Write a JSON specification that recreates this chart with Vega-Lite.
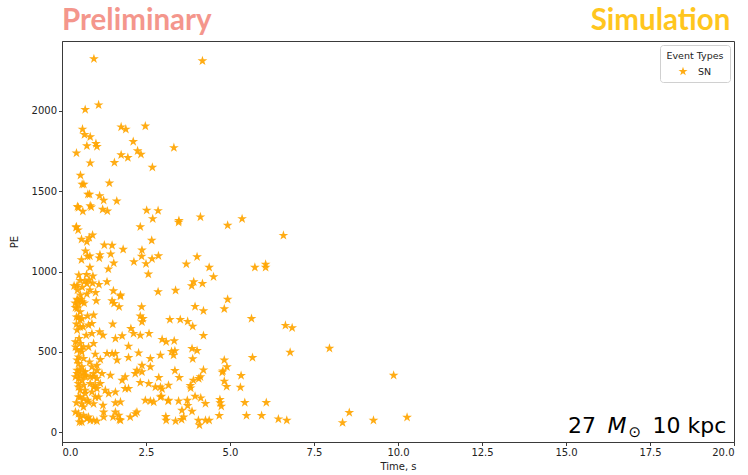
{
  "$schema": "https://vega.github.io/schema/vega-lite/v6.json",
  "autosize": "none",
  "width": 672,
  "height": 401,
  "padding": {"left": 62, "top": 41, "right": 14, "bottom": 33},
  "background": "white",
  "config": {
    "view": {"stroke": "#3a3a3a", "strokeWidth": 1},
    "font": "DejaVu Sans",
    "axis": {
      "labelFont": "DejaVu Sans",
      "titleFont": "DejaVu Sans",
      "labelFontSize": 10,
      "titleFontSize": 10,
      "titleFontWeight": "normal",
      "labelColor": "#222",
      "titleColor": "#222",
      "domainColor": "#3a3a3a",
      "tickColor": "#3a3a3a",
      "tickSize": 3.5,
      "labelPadding": 2,
      "grid": false
    }
  },
  "layer": [
    {
      "data": {
        "values": [
          {"t":0.95,"pe":2324},{"t":4.18,"pe":2311},
          {"t":0.69,"pe":2008},{"t":1.09,"pe":2037},{"t":0.61,"pe":1886},{"t":0.67,"pe":1852},{"t":0.84,"pe":1838},{"t":0.74,"pe":1782},{"t":1.01,"pe":1796},{"t":1.04,"pe":1778},{"t":0.43,"pe":1738},{"t":0.84,"pe":1676},{"t":0.55,"pe":1599},{"t":0.60,"pe":1543},{"t":0.65,"pe":1543},{"t":0.77,"pe":1481},{"t":0.82,"pe":1481},{"t":1.12,"pe":1472},{"t":1.24,"pe":1444},{"t":0.46,"pe":1404},{"t":0.49,"pe":1398},{"t":0.62,"pe":1375},{"t":0.84,"pe":1410},{"t":0.87,"pe":1402},{"t":1.21,"pe":1387},{"t":1.35,"pe":1377},{"t":1.41,"pe":1551},{"t":1.63,"pe":1439},{"t":1.56,"pe":1678},{"t":1.76,"pe":1900},{"t":1.90,"pe":1886},{"t":1.76,"pe":1726},{"t":1.96,"pe":1709},{"t":2.12,"pe":1809},{"t":2.25,"pe":1751},{"t":2.35,"pe":1730},{"t":2.48,"pe":1905},{"t":2.69,"pe":1649},{"t":3.33,"pe":1771},{"t":2.52,"pe":1381},{"t":2.70,"pe":1329},{"t":2.86,"pe":1379},{"t":3.48,"pe":1317},{"t":3.47,"pe":1307},{"t":4.12,"pe":1340},{"t":4.93,"pe":1288},{"t":5.36,"pe":1329},
          {"t":2.33,"pe":1279},{"t":0.43,"pe":1279},{"t":6.59,"pe":1225},{"t":4.02,"pe":1092},{"t":3.70,"pe":1047},{"t":4.38,"pe":1026},{"t":4.51,"pe":968},{"t":5.74,"pe":1026},{"t":6.06,"pe":1045},{"t":6.06,"pe":1026},
          {"t":0.42,"pe":1275},{"t":0.48,"pe":1259},{"t":0.58,"pe":1201},{"t":0.74,"pe":1186},{"t":0.81,"pe":1211},{"t":0.91,"pe":1227},{"t":2.67,"pe":1194},{"t":1.26,"pe":1165},{"t":1.49,"pe":1163},{"t":1.82,"pe":1138},{"t":0.70,"pe":1128},{"t":0.76,"pe":1095},{"t":0.83,"pe":1097},{"t":0.58,"pe":1074},{"t":1.13,"pe":1105},{"t":1.11,"pe":1084},{"t":1.45,"pe":1109},{"t":2.38,"pe":1134},{"t":2.37,"pe":1095},{"t":2.68,"pe":1080},{"t":2.87,"pe":1098},{"t":2.14,"pe":1061},{"t":2.50,"pe":1049},{"t":1.54,"pe":1053},{"t":0.83,"pe":1026},{"t":1.38,"pe":1016},
          {"t":3.92,"pe":936},{"t":3.86,"pe":912},{"t":4.18,"pe":926},{"t":4.93,"pe":827},{"t":2.57,"pe":984},{"t":0.50,"pe":978},{"t":0.73,"pe":982},{"t":0.92,"pe":972},{"t":0.54,"pe":945},{"t":0.68,"pe":941},{"t":0.81,"pe":947},{"t":0.91,"pe":928},{"t":0.45,"pe":914},{"t":0.60,"pe":903},{"t":0.74,"pe":924},{"t":0.83,"pe":885},{"t":0.46,"pe":885},{"t":0.55,"pe":854},{"t":0.74,"pe":860},{"t":1.10,"pe":920},{"t":1.34,"pe":936},{"t":1.00,"pe":870},{"t":1.53,"pe":880},{"t":1.74,"pe":854},{"t":2.86,"pe":874},{"t":3.38,"pe":883},{"t":0.36,"pe":911},{"t":0.45,"pe":827},{"t":0.57,"pe":827},{"t":0.66,"pe":804},{"t":0.49,"pe":797},{"t":0.39,"pe":804},{"t":1.49,"pe":818},{"t":1.02,"pe":818},{"t":1.55,"pe":802},{"t":1.74,"pe":847},
          {"t":4.83,"pe":768},{"t":3.96,"pe":783},{"t":4.21,"pe":756},{"t":5.64,"pe":708},{"t":3.52,"pe":702},{"t":3.74,"pe":690},{"t":3.89,"pe":660},{"t":6.65,"pe":665},{"t":6.85,"pe":650},{"t":4.21,"pe":602},
          {"t":1.70,"pe":781},{"t":2.37,"pe":781},{"t":2.33,"pe":723},{"t":2.41,"pe":708},{"t":2.38,"pe":687},{"t":0.45,"pe":771},{"t":0.54,"pe":750},{"t":0.49,"pe":718},{"t":0.59,"pe":708},{"t":0.43,"pe":673},{"t":0.54,"pe":656},{"t":0.94,"pe":729},{"t":0.89,"pe":677},{"t":0.79,"pe":667},{"t":1.51,"pe":673},{"t":2.05,"pe":646},{"t":2.13,"pe":615},{"t":2.33,"pe":604},{"t":2.59,"pe":615},{"t":1.12,"pe":625},{"t":1.22,"pe":604},{"t":0.89,"pe":615},{"t":3.21,"pe":702},
          {"t":7.96,"pe":523},{"t":4.02,"pe":509},{"t":6.79,"pe":498},{"t":5.67,"pe":465},{"t":3.89,"pe":457},{"t":4.83,"pe":450},{"t":4.91,"pe":407},{"t":4.79,"pe":382},{"t":4.77,"pe":374},{"t":4.21,"pe":388},{"t":2.98,"pe":578},{"t":3.10,"pe":563},{"t":3.34,"pe":569},{"t":3.26,"pe":503},{"t":3.36,"pe":507},{"t":3.32,"pe":480},{"t":2.93,"pe":480},{"t":1.59,"pe":584},{"t":1.79,"pe":600},
          {"t":0.94,"pe":553},{"t":0.40,"pe":563},{"t":0.54,"pe":553},{"t":0.64,"pe":531},{"t":0.45,"pe":511},{"t":0.59,"pe":500},{"t":0.49,"pe":469},{"t":0.64,"pe":459},{"t":1.98,"pe":536},{"t":1.34,"pe":490},{"t":1.49,"pe":490},{"t":1.59,"pe":490},{"t":2.28,"pe":494},{"t":2.63,"pe":459},{"t":0.99,"pe":486},{"t":1.14,"pe":453},{"t":1.04,"pe":417},{"t":0.89,"pe":407},{"t":1.64,"pe":449},{"t":1.98,"pe":465},{"t":2.23,"pe":386},{"t":2.38,"pe":417},{"t":2.63,"pe":407},{"t":3.87,"pe":521},
          {"t":9.87,"pe":355},{"t":5.33,"pe":353},{"t":4.12,"pe":345},{"t":4.07,"pe":334},{"t":3.91,"pe":324},{"t":3.82,"pe":291},{"t":3.83,"pe":276},{"t":4.83,"pe":318},{"t":4.90,"pe":285},{"t":5.31,"pe":280},{"t":3.36,"pe":384},{"t":3.49,"pe":341},{"t":2.98,"pe":270},{"t":2.96,"pe":224},
          {"t":0.49,"pe":428},{"t":0.59,"pe":407},{"t":0.45,"pe":386},{"t":0.64,"pe":376},{"t":0.54,"pe":355},{"t":0.69,"pe":345},{"t":1.04,"pe":386},{"t":1.19,"pe":366},{"t":0.94,"pe":345},{"t":1.44,"pe":355},{"t":2.18,"pe":366},{"t":2.88,"pe":341},{"t":2.38,"pe":376},{"t":0.49,"pe":335},{"t":1.88,"pe":345},{"t":1.79,"pe":324},{"t":2.33,"pe":310},{"t":2.58,"pe":303},{"t":2.78,"pe":282},{"t":2.93,"pe":282},{"t":3.17,"pe":293},{"t":1.88,"pe":272},{"t":1.98,"pe":272},{"t":1.29,"pe":262},{"t":1.59,"pe":251},{"t":1.39,"pe":241},
          {"t":0.45,"pe":366},{"t":0.69,"pe":355},{"t":0.94,"pe":366},{"t":1.04,"pe":335},{"t":0.49,"pe":303},{"t":0.64,"pe":293},{"t":0.84,"pe":303},{"t":0.99,"pe":293},{"t":1.14,"pe":303},{"t":0.54,"pe":262},{"t":0.69,"pe":241},{"t":0.89,"pe":251},{"t":1.04,"pe":272},{"t":0.49,"pe":220},{"t":0.64,"pe":209},{"t":1.09,"pe":220},
          {"t":3.96,"pe":224},{"t":4.13,"pe":214},{"t":3.73,"pe":199},{"t":3.74,"pe":166},{"t":4.27,"pe":179},{"t":4.70,"pe":204},{"t":4.71,"pe":183},{"t":4.74,"pe":162},{"t":5.44,"pe":185},{"t":6.08,"pe":185},{"t":3.57,"pe":137},{"t":3.87,"pe":131},{"t":3.62,"pe":95},{"t":3.56,"pe":79},{"t":4.68,"pe":104},{"t":5.49,"pe":104},{"t":5.94,"pe":104},{"t":6.44,"pe":83},{"t":6.69,"pe":75},{"t":8.55,"pe":123},{"t":8.35,"pe":60},{"t":9.27,"pe":75},{"t":10.27,"pe":93},{"t":4.06,"pe":75},{"t":4.09,"pe":45},{"t":4.27,"pe":75},{"t":4.38,"pe":75},{"t":3.16,"pe":195},{"t":3.47,"pe":195},{"t":3.09,"pe":98},{"t":3.10,"pe":75},{"t":3.38,"pe":70},
          {"t":2.48,"pe":199},{"t":2.63,"pe":195},{"t":2.73,"pe":189},{"t":2.93,"pe":220},{"t":3.17,"pe":199},{"t":1.59,"pe":183},{"t":1.74,"pe":189},{"t":1.59,"pe":126},{"t":1.69,"pe":106},{"t":1.74,"pe":75},{"t":2.03,"pe":95},{"t":2.18,"pe":116},{"t":2.23,"pe":126},{"t":1.24,"pe":126},{"t":1.24,"pe":95},{"t":1.22,"pe":168},
          {"t":0.79,"pe":189},{"t":0.94,"pe":178},{"t":0.59,"pe":178},{"t":0.40,"pe":126},{"t":0.49,"pe":116},{"t":0.54,"pe":95},{"t":0.59,"pe":64},{"t":0.74,"pe":85},{"t":0.84,"pe":75},{"t":0.94,"pe":75},{"t":1.04,"pe":70},{"t":0.64,"pe":106},{"t":0.79,"pe":95},{"t":0.52,"pe":64},{"t":1.52,"pe":95},{"t":1.71,"pe":79},
          {"t":0.40,"pe":776},{"t":0.46,"pe":822},{"t":0.60,"pe":812},{"t":0.43,"pe":718},{"t":0.54,"pe":698},{"t":0.76,"pe":723},{"t":0.45,"pe":636},{"t":0.63,"pe":656},{"t":0.51,"pe":584},{"t":0.72,"pe":604},{"t":0.40,"pe":531},{"t":0.57,"pe":515},{"t":0.79,"pe":531},{"t":0.45,"pe":449},{"t":0.82,"pe":438},{"t":0.51,"pe":386},{"t":0.69,"pe":376},{"t":0.40,"pe":345},{"t":0.60,"pe":324},{"t":0.84,"pe":345},{"t":0.49,"pe":282},{"t":0.69,"pe":262},{"t":0.94,"pe":282},{"t":0.54,"pe":220},{"t":0.76,"pe":199},{"t":0.99,"pe":220},{"t":0.43,"pe":183},{"t":0.64,"pe":158}
        ]
      },
      "mark": {"type": "point", "filled": true, "size": 105, "opacity": 0.92, "strokeWidth": 0},
      "encoding": {
        "x": {
          "field": "t", "type": "quantitative",
          "scale": {"domain": [0, 20], "nice": false, "zero": false},
          "axis": {"title": "Time, s", "values": [0, 2.5, 5, 7.5, 10, 12.5, 15, 17.5, 20], "format": ".1f", "titlePadding": 4}
        },
        "y": {
          "field": "pe", "type": "quantitative",
          "scale": {"domain": [-60, 2435], "nice": false, "zero": false},
          "axis": {"title": "PE", "values": [0, 500, 1000, 1500, 2000], "format": "d", "titlePadding": 12}
        },
        "color": {
          "datum": "SN",
          "scale": {"range": ["#FFA500"]},
          "legend": {
            "title": "Event Types",
            "orient": "top-right",
            "offset": 4,
            "padding": 6,
            "strokeColor": "#d0d0d0",
            "fillColor": "white",
            "cornerRadius": 3,
            "titleFont": "DejaVu Sans",
            "titleFontSize": 9.5,
            "titleFontWeight": "normal",
            "titleColor": "#222",
            "titleAnchor": "middle",
            "titlePadding": 6,
            "labelFont": "DejaVu Sans",
            "labelFontSize": 9.5,
            "labelColor": "#222",
            "labelOffset": 10,
            "symbolType": "M0,-1L0.2245,-0.309L0.9511,-0.309L0.3633,0.118L0.5878,0.809L0,0.382L-0.5878,0.809L-0.3633,0.118L-0.9511,-0.309L-0.2245,-0.309Z",
            "symbolSize": 90,
            "symbolStrokeWidth": 0,
            "symbolOpacity": 0.92
          }
        },
        "shape": {"value": "M0,-1L0.2245,-0.309L0.9511,-0.309L0.3633,0.118L0.5878,0.809L0,0.382L-0.5878,0.809L-0.3633,0.118L-0.9511,-0.309L-0.2245,-0.309Z"}
      }
    },
    {
      "data": {"values": [{"label": "Preliminary"}]},
      "mark": {"type": "text", "align": "left", "baseline": "alphabetic", "font": "Lato", "fontWeight": "bold", "fontSize": 29.5, "color": "#F4968C"},
      "encoding": {"x": {"datum": 0, "type": "quantitative"}, "y": {"datum": 2503, "type": "quantitative"}, "text": {"field": "label"}}
    },
    {
      "data": {"values": [{"label": "Simulation"}]},
      "mark": {"type": "text", "align": "right", "baseline": "alphabetic", "font": "Lato", "fontWeight": "bold", "fontSize": 29.5, "color": "#FFC61E"},
      "encoding": {"x": {"datum": 19.89, "type": "quantitative"}, "y": {"datum": 2503, "type": "quantitative"}, "text": {"field": "label"}}
    },
    {
      "data": {"values": [{"label": "27"}]},
      "mark": {"type": "text", "align": "left", "baseline": "alphabetic", "font": "DejaVu Sans", "fontSize": 22, "color": "black"},
      "encoding": {"x": {"datum": 15.06, "type": "quantitative"}, "y": {"datum": -6, "type": "quantitative"}, "text": {"field": "label"}}
    },
    {
      "data": {"values": [{"label": "M"}]},
      "mark": {"type": "text", "align": "right", "baseline": "alphabetic", "font": "DejaVu Sans", "fontStyle": "oblique", "fontSize": 22, "color": "black"},
      "encoding": {"x": {"datum": 16.8, "type": "quantitative"}, "y": {"datum": -6, "type": "quantitative"}, "text": {"field": "label"}}
    },
    {
      "data": {"values": [{"label": "⊙"}]},
      "mark": {"type": "text", "align": "center", "baseline": "alphabetic", "font": "DejaVu Sans", "fontSize": 15, "color": "black"},
      "encoding": {"x": {"datum": 17.05, "type": "quantitative"}, "y": {"datum": -31, "type": "quantitative"}, "text": {"field": "label"}}
    },
    {
      "data": {"values": [{"label": "10 kpc"}]},
      "mark": {"type": "text", "align": "right", "baseline": "alphabetic", "font": "DejaVu Sans", "fontSize": 22, "color": "black"},
      "encoding": {"x": {"datum": 19.77, "type": "quantitative"}, "y": {"datum": -6, "type": "quantitative"}, "text": {"field": "label"}}
    }
  ]
}
